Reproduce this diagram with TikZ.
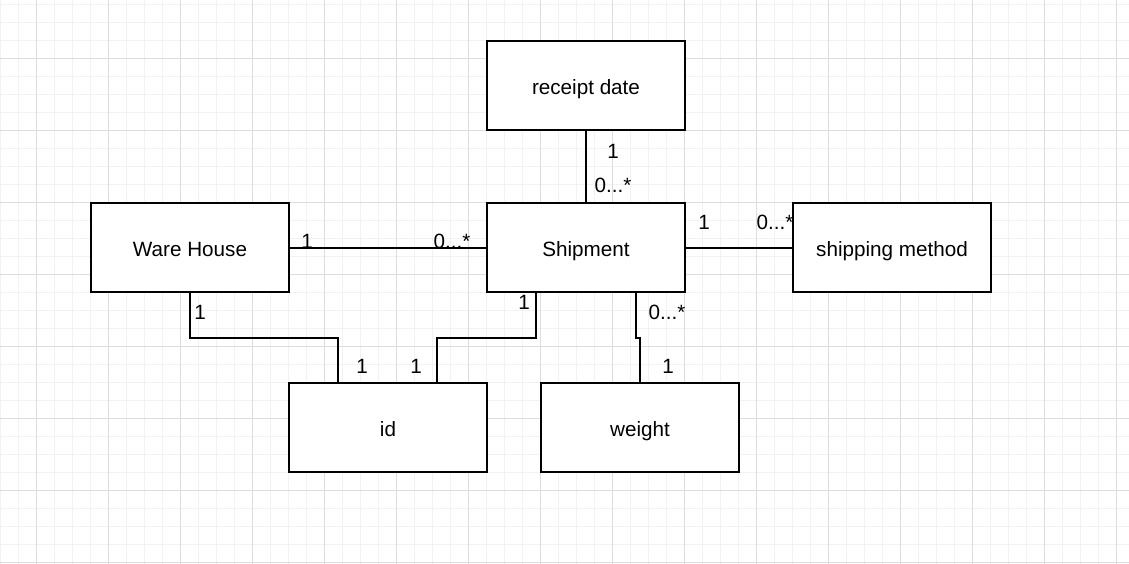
\documentclass[tikz,border=0pt]{standalone}
\usepackage{fontspec}
\setmainfont{Liberation Sans}
\definecolor{minorgrid}{HTML}{F2F2F2}
\definecolor{majorgrid}{HTML}{DDDDDD}
\begin{document}
\begin{tikzpicture}[x=0.75pt,y=-0.75pt,
  entity/.style={draw=black, line width=1.5pt, fill=white, minimum width=148.5pt, minimum height=66.75pt, inner sep=0pt, text height=13pt, text depth=0pt, font=\fontsize{15.5}{18}\selectfont},
  conn/.style={draw=black, line width=1.5pt},
  mult/.style={font=\fontsize{15.5}{18}\selectfont, inner sep=0pt}]
\useasboundingbox (0,0) rectangle (1129,564);
\fill[white] (0,0) rectangle (1129,564);
% grid
\foreach \x in {0,18,...,1129} \draw[minorgrid, line width=0.75pt] (\x,0) -- (\x,564);
\foreach \y in {4,22,...,564} \draw[minorgrid, line width=0.75pt] (0,\y) -- (1129,\y);
\foreach \x in {36,108,...,1129} \draw[majorgrid, line width=0.75pt] (\x,0) -- (\x,564);
\foreach \y in {58,130,...,564} \draw[majorgrid, line width=0.75pt] (0,\y) -- (1129,\y);
% entities
\node[entity] (rd) at (586,85.5) {receipt date};
\node[entity] (wh) at (190,247.5) {Ware House};
\node[entity] (sh) at (586,247.5) {Shipment};
\node[entity] (sm) at (892,247.5) {shipping method};
\node[entity] (id) at (388,427.5) {id};
\node[entity] (wt) at (640,427.5) {weight};
% junctions
\coordinate (j1) at (338,338);
\coordinate (j2) at (437,338);
\coordinate (j3) at (640,338);
% connectors
\draw[conn] (rd.south) -- (sh.north);
\draw[conn] (wh.east) -- (sh.west);
\draw[conn] (sh.east) -- (sm.west);
\draw[conn] (wh.south) |- (j1) -- (j1 |- id.north);
\draw[conn] ([xshift=-37.5pt]sh.south) |- (j2) -- (j2 |- id.north);
\draw[conn] ([xshift=37.5pt]sh.south) |- (j3) -- (wt.north);
% multiplicities
\node[mult] (m1) at (613,151) {1};
\node[mult] (m2) at (613,185) {0...*};
\node[mult] (m3) at (307,241) {1};
\node[mult] (m4) at (452,241) {0...*};
\node[mult] (m5) at (704,222) {1};
\node[mult] (m6) at (775,222) {0...*};
\node[mult] (m7) at (200,312) {1};
\node[mult] (m8) at (362,366) {1};
\node[mult] (m9) at (416,366) {1};
\node[mult] (m10) at (524,302) {1};
\node[mult] (m11) at (667,312) {0...*};
\node[mult] (m12) at (668,366) {1};
\end{tikzpicture}
\end{document}
